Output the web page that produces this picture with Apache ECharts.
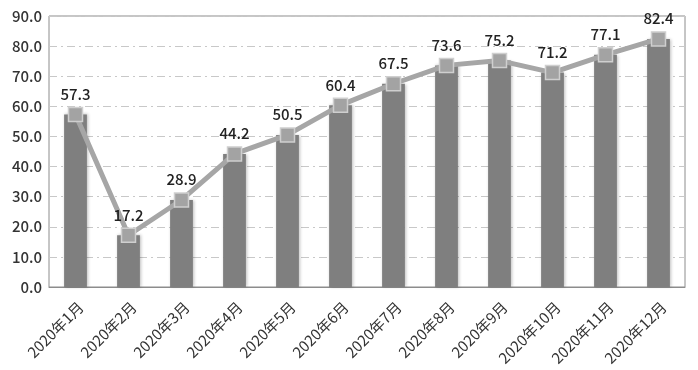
<!DOCTYPE html>
<html><head><meta charset="utf-8">
<script src="https://cdn.jsdelivr.net/npm/echarts@6/dist/echarts.min.js"></script>
<style>html,body{margin:0;padding:0;background:#fff}#c{width:698px;height:370px}</style>
</head><body><div id="c"></div>
<script>
var categories = ['2020年1月','2020年2月','2020年3月','2020年4月','2020年5月','2020年6月','2020年7月','2020年8月','2020年9月','2020年10月','2020年11月','2020年12月'];
var values = [57.3,17.2,28.9,44.2,50.5,60.4,67.5,73.6,75.2,71.2,77.1,82.4];
var yTicks = {min:0,max:90,interval:10};
var FONT = '"Noto Sans CJK SC","Noto Sans",sans-serif';
var chart = echarts.init(document.getElementById('c'));
chart.setOption({
  animation:false,
  grid:{left:49,right:13,top:16,bottom:83,containLabel:false,show:true,borderColor:'#8c8c8c',borderWidth:1},
  xAxis:{type:'category',data:categories,
    axisLine:{lineStyle:{color:'#8c8c8c',width:1}},axisTick:{show:false},
    axisLabel:{rotate:45,interval:0,color:'#333',fontSize:15,fontFamily:FONT,margin:12,verticalAlign:'top'}},
  yAxis:{type:'value',min:yTicks.min,max:yTicks.max,interval:yTicks.interval,
    axisLine:{show:false},axisTick:{show:false},
    axisLabel:{color:'#333',fontSize:15,fontWeight:500,fontFamily:FONT,margin:7,formatter:function(v){return v.toFixed(1);}},
    splitLine:{lineStyle:{color:'#c8c8c8',type:[8,4,2,4],width:1}}},
  series:[
    {type:'bar',data:values,barWidth:'43%',
      itemStyle:{color:'#7f7f7f',shadowColor:'rgba(0,0,0,0.25)',shadowBlur:3,shadowOffsetX:1}},
    {type:'line',data:values,symbol:'rect',symbolSize:14,
      lineStyle:{color:'#a6a6a6',width:5},
      itemStyle:{color:'#a3a3a3',borderColor:'#cfcfcf',borderWidth:1.5},
      label:{show:true,position:'top',distance:5,color:'#222',fontSize:15,fontWeight:500,fontFamily:FONT,
        formatter:function(p){return p.value.toFixed(1);}}}
  ]
});
</script></body></html>
